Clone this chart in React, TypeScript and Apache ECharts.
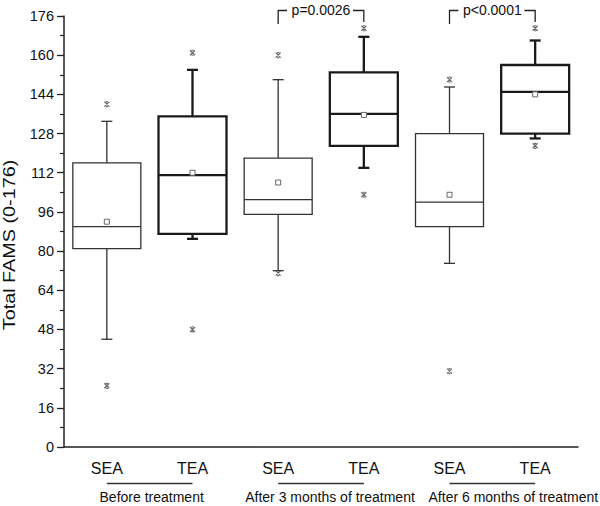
import React, { useEffect, useRef } from "react";
import * as echarts from "echarts";

const categories = ["SEA", "TEA", "SEA", "TEA", "SEA", "TEA"];
const groupLabels = ["Before treatment", "After 3 months of treatment", "After 6 months of treatment"];
const whiskerLow = [44, 85, 72, 114, 75, 126];
const q1 = [81, 87, 95, 123, 90, 128];
const median = [90, 111, 101, 136, 100, 145];
const q3 = [116, 135, 118, 153, 128, 156];
const whiskerHigh = [133, 154, 150, 167.5, 147, 166];
const means = [92, 112, 108, 135.6, 103, 144];
const outliersHigh = [140, 161, 160, 171, 150, 171];
const outliersLow = [25, 48, 71, 103, 31, 123];
const yMin = 0;
const yMax = 176;
const yInterval = 16;
const pValueLabels = ["p=0.0026", "p<0.0001"];
const pValuePairs = [[2, 3], [4, 5]];

const FONT = "'Liberation Sans', Arial, Helvetica, sans-serif";

export default function App() {
  const ref = useRef<HTMLDivElement>(null);
  useEffect(() => {
    document.body.style.margin = "0";
    const chart = echarts.init(ref.current!, null, { renderer: "svg" });
    const boxData = categories.map((_, i) => [i, whiskerLow[i], q1[i], median[i], q3[i], whiskerHigh[i], means[i]]);
    const outlierData: number[][] = [];
    categories.forEach((_, i) => {
      outlierData.push([i, outliersHigh[i]]);
      outlierData.push([i, outliersLow[i]]);
    });
    chart.setOption({
      animation: false,
      grid: { left: 64, right: 22, top: 16, bottom: 59 },
      xAxis: {
        type: "category",
        data: categories,
        boundaryGap: true,
        axisLine: { lineStyle: { color: "#222", width: 1.5 } },
        axisTick: { alignWithLabel: true, length: 8, lineStyle: { color: "#222", width: 1.5 } },
        axisLabel: { fontSize: 16, color: "#111", fontFamily: FONT, margin: 13 },
        splitLine: { show: false },
      },
      yAxis: {
        type: "value",
        min: yMin,
        max: yMax,
        interval: yInterval,
        axisLine: { show: true, lineStyle: { color: "#222", width: 1.5 } },
        axisTick: { show: true, length: 7, lineStyle: { color: "#222", width: 1.3 } },
        minorTick: { show: true, splitNumber: 2, length: 4, lineStyle: { color: "#222", width: 1.2 } },
        axisLabel: { fontSize: 14.5, color: "#111", fontFamily: FONT, margin: 10 },
        splitLine: { show: false },
      },
      series: [
        {
          type: "custom",
          data: boxData,
          encode: { x: 0, y: [1, 2, 3, 4, 5] },
          renderItem: (params: any, api: any) => {
            const i = api.value(0);
            const x = api.coord([i, 0])[0];
            const yLo = api.coord([i, api.value(1)])[1];
            const yQ1 = api.coord([i, api.value(2)])[1];
            const yMed = api.coord([i, api.value(3)])[1];
            const yQ3 = api.coord([i, api.value(4)])[1];
            const yHi = api.coord([i, api.value(5)])[1];
            const yMean = api.coord([i, api.value(6)])[1];
            const tea = categories[i] === "TEA";
            const lw = tea ? 2.3 : 1.3;
            const stroke = tea ? "#1a1a1a" : "#333";
            const bw = 68;
            const cw = 11;
            const st = { stroke, lineWidth: lw, fill: null };
            return {
              type: "group",
              children: [
                { type: "line", shape: { x1: x, y1: yHi, x2: x, y2: yQ3 }, style: st },
                { type: "line", shape: { x1: x, y1: yQ1, x2: x, y2: yLo }, style: st },
                { type: "line", shape: { x1: x - cw / 2, y1: yHi, x2: x + cw / 2, y2: yHi }, style: st },
                { type: "line", shape: { x1: x - cw / 2, y1: yLo, x2: x + cw / 2, y2: yLo }, style: st },
                { type: "rect", shape: { x: x - bw / 2, y: yQ3, width: bw, height: yQ1 - yQ3 }, style: { stroke, lineWidth: lw, fill: "#fff" } },
                { type: "line", shape: { x1: x - bw / 2, y1: yMed, x2: x + bw / 2, y2: yMed }, style: st },
                { type: "rect", shape: { x: x - 2.5, y: yMean - 2.5, width: 5, height: 5 }, style: { stroke: "#666", lineWidth: 1, fill: "#fff" } },
              ],
            };
          },
          z: 2,
        },
        {
          type: "scatter",
          data: outlierData,
          symbol: "path://M0,0L10,10M10,0L0,10M3,0L7,0M3,10L7,10",
          symbolSize: 5,
          itemStyle: { color: "transparent", borderColor: "#444", borderWidth: 1.2 },
          z: 3,
        },
      ],
    });

    const px = (i: number) => chart.convertToPixel({ xAxisIndex: 0 }, i) as number;
    const graphics: any[] = [];
    graphics.push({
      type: "text",
      x: 10,
      y: 245,
      rotation: Math.PI / 2,
      scaleX: 1.2,
      style: { text: "Total FAMS (0-176)", fontSize: 16.5, fontFamily: FONT, fill: "#111", align: "center", verticalAlign: "middle" },
    });
    const labelOffsets = [2, 9, 21];
    groupLabels.forEach((lab, g) => {
      const xa = px(g * 2);
      const xb = px(g * 2 + 1);
      graphics.push({ type: "line", shape: { x1: xa, y1: 483.5, x2: xb, y2: 483.5 }, style: { stroke: "#333", lineWidth: 1.3 } });
      graphics.push({
        type: "text",
        x: (xa + xb) / 2 + labelOffsets[g],
        y: 497,
        style: { text: lab, fontSize: 14, fontFamily: FONT, fill: "#111", align: "center", verticalAlign: "middle" },
      });
    });
    pValuePairs.forEach(([a, b], k) => {
      const xa = px(a);
      const xb = px(b);
      const mid = (xa + xb) / 2;
      const half = 29;
      const yTop = 10.5;
      const st = { stroke: "#222", lineWidth: 1.3 };
      graphics.push({ type: "polyline", shape: { points: [[xa, 24], [xa, yTop], [mid - half - 5, yTop]] }, style: { ...st, fill: null } });
      graphics.push({ type: "polyline", shape: { points: [[mid + half + 3, yTop], [xb, yTop], [xb, 22]] }, style: { ...st, fill: null } });
      graphics.push({
        type: "text",
        x: mid,
        y: 10,
        style: { text: pValueLabels[k], fontSize: 14, fontFamily: FONT, fill: "#111", align: "center", verticalAlign: "middle" },
      });
    });
    chart.setOption({ graphic: graphics });
    return () => chart.dispose();
  }, []);
  return <div ref={ref} style={{ width: 600, height: 506 }} />;
}
